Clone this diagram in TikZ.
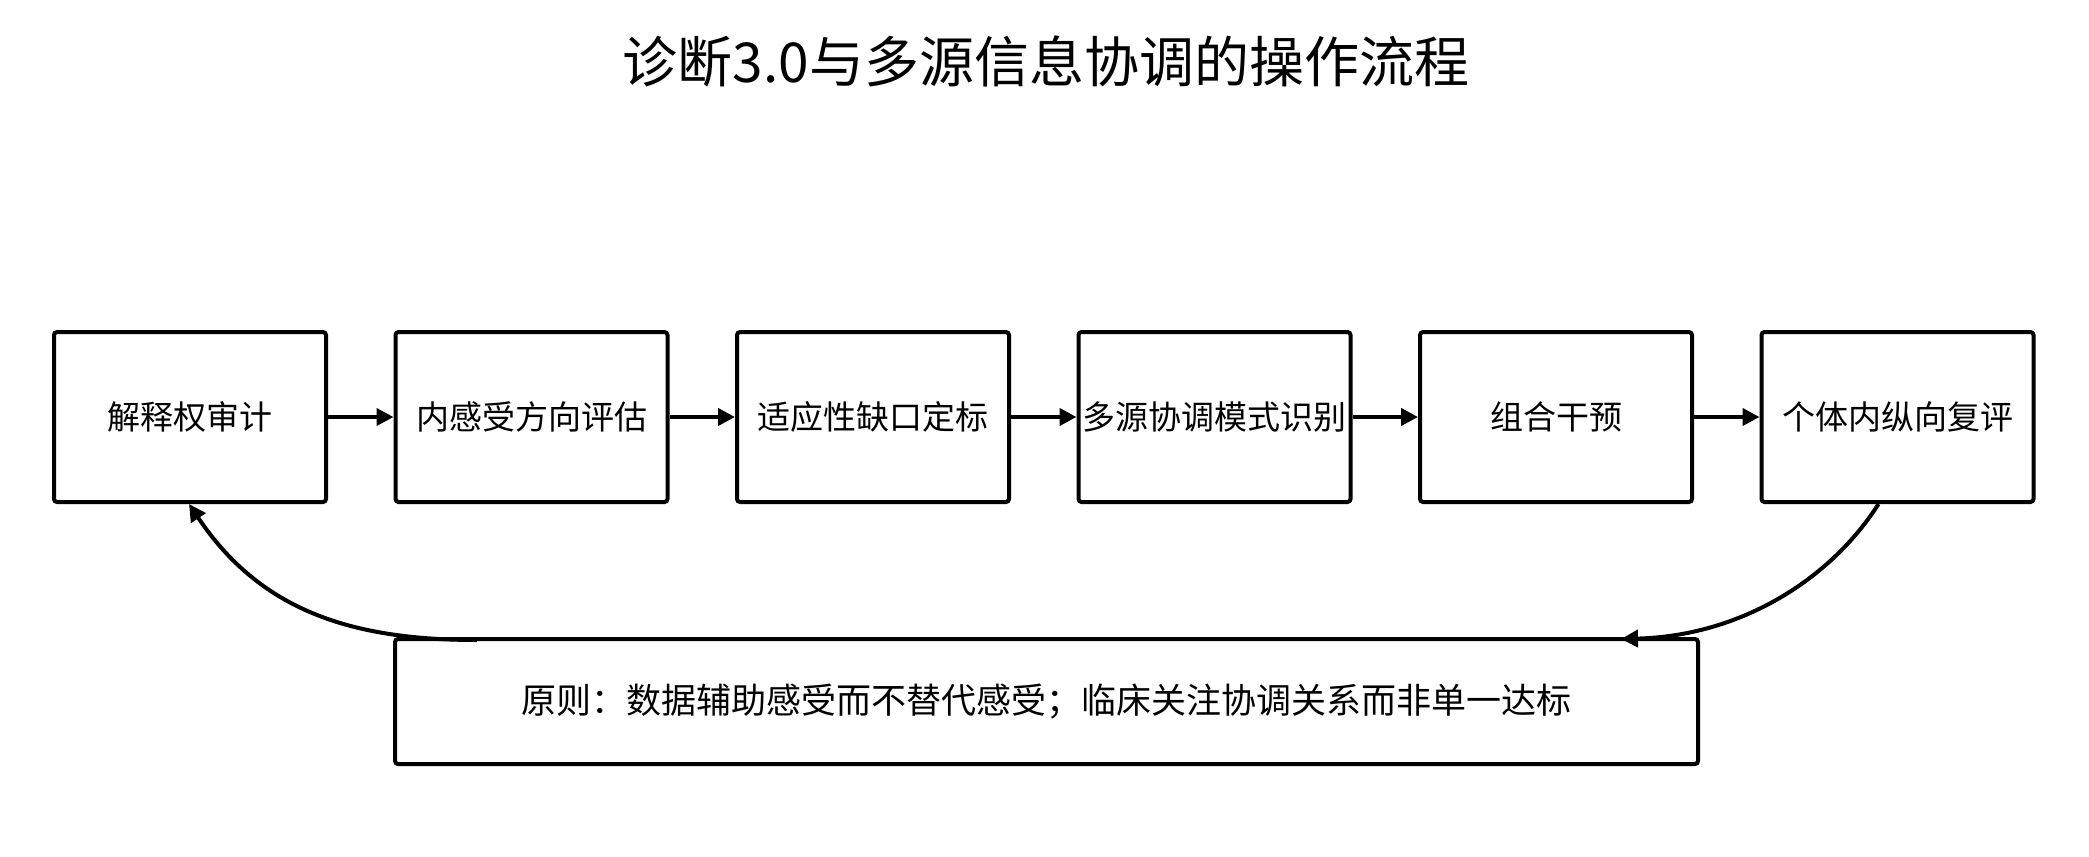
\documentclass[tikz,border=0pt]{standalone}
\usepackage{fontspec}
\setmainfont{Noto Sans CJK SC}
\usetikzlibrary{arrows.meta,calc}
\begin{document}
\begin{tikzpicture}[x=1pt,y=-1pt,
  box/.style={draw,line width=4pt,rounded corners=3pt,minimum width=272pt,minimum height=170pt,font=\fontsize{33}{38}\selectfont,anchor=north west,inner sep=0},
  arr/.style={line width=4pt,-{Triangle[length=17pt,width=17pt]}}]
\useasboundingbox (0,0) rectangle (2089,857);
\node[font=\fontsize{55}{60}\selectfont] (title) at (1046,61) {诊断3.0与多源信息协调的操作流程};
\node[box] (b1) at (52,330) {解释权审计};
\node[box] (b2) at (393.5,330) {内感受方向评估};
\node[box] (b3) at (735,330) {适应性缺口定标};
\node[box] (b4) at (1076.5,330) {多源协调模式识别};
\node[box] (b5) at (1418,330) {组合干预};
\node[box] (b6) at (1759.5,330) {个体内纵向复评};
\node[box,minimum width=1303pt,minimum height=125pt,font=\fontsize{35}{40}\selectfont] (p) at (393,637) {原则：数据辅助感受而不替代感受；临床关注协调关系而非单一达标};
\draw[arr] (b1) -- (b2);
\draw[arr] (b2) -- (b3);
\draw[arr] (b3) -- (b4);
\draw[arr] (b4) -- (b5);
\draw[arr] (b5) -- (b6);
\coordinate (s6) at ($(b6.south west)+(119,0)$);
\coordinate (e6) at ($(p.north east)+(-79,2)$);
\coordinate (s1) at ($(p.north west)+(84,3)$);
\coordinate (e1) at ($(b1.south west)+(137,0)$);
\draw[arr] (s6) .. controls (1830,580) and (1740,636) .. (e6);
\draw[arr] (s1) .. controls (350,640) and (260,610) .. (e1);
\end{tikzpicture}
\end{document}
